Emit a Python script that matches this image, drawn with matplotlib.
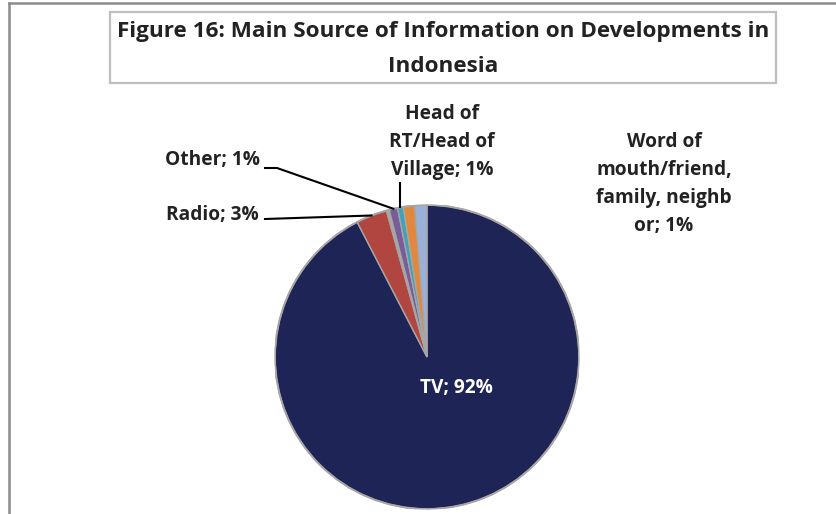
import numpy as np
import matplotlib
matplotlib.use("Agg")
import matplotlib.pyplot as plt
from matplotlib.patches import Rectangle
from matplotlib.lines import Line2D

# share of respondents by main information source (clockwise from 12 o'clock)
sources = ["TV", "Radio", "", "Other", "Head of\nRT/Head of\nVillage", "",
           "Word of\nmouth/friend,\nfamily, neighb\nor"]
shares = [92.4, 3.3, 0.3, 0.9, 0.6, 1.2, 1.3]
colors = ["#1F2457", "#B0463F", "#A3AD98", "#7A5C9A", "#3FA2BA", "#E0893E", "#9BB0D6"]

W, H = 836, 514
CX, CY, R = 427, 357, 152
plt.rcParams['font.family'] = ['Open Sans', 'DejaVu Sans']
txt = "#222222"

fig = plt.figure(figsize=(W / 100, H / 100), dpi=100)
fig.patch.set_facecolor("white")


def fx(px):
    return px / W


def fy(py):
    return 1 - py / H


# outer chart frame (only top and left edges fall inside the image)
fig.add_artist(Line2D([fx(9), fx(9)], [fy(3), fy(H + 5)], color="#8C8C8C", lw=1.8,
                      transform=fig.transFigure))
fig.add_artist(Line2D([fx(9), fx(W + 5)], [fy(3), fy(3)], color="#8C8C8C", lw=1.8,
                      transform=fig.transFigure))

# title box
fig.add_artist(Rectangle((fx(110), fy(83)), fx(776) - fx(110), fy(12) - fy(83),
                         fill=False, edgecolor="#BFBFBF", lw=1.6,
                         transform=fig.transFigure))
fig.text(fx(443), fy(32), "Figure 16: Main Source of Information on Developments in",
         ha="center", va="center", fontsize=16.2, fontweight="bold", color=txt)
fig.text(fx(443), fy(66), "Indonesia", ha="center", va="center", fontsize=16.2,
         fontweight="bold", color=txt)

ax = fig.add_axes([fx(CX - R), fy(CY + R), 2 * R / W, 2 * R / H])
wedges, _ = ax.pie(shares, colors=colors, startangle=90, counterclock=False, radius=1,
                   wedgeprops=dict(edgecolor="#A6A6A6", linewidth=1.0))
ax.add_patch(plt.Circle((0, 0), 1, fill=False, edgecolor="#A6A6A6", lw=1.4))
ax.set_xlim(-1, 1)
ax.set_ylim(-1, 1)
ax.set_aspect("equal")
ax.axis("off")


def d(px, py):
    return (px - CX) / R, (CY - py) / R


def mid_edge(i):
    w = wedges[i]
    a = np.deg2rad((w.theta1 + w.theta2) / 2)
    return np.cos(a), np.sin(a)


def pct(i):
    return "%.0f%%" % shares[i]


lab = dict(fontsize=13.8, fontweight="bold", color=txt, linespacing=1.55)

# TV label inside the big slice
ax.text(*d(456, 388), sources[0] + "; " + pct(0), ha="center", va="center",
        color="white", fontsize=13.8, fontweight="bold")

# Radio
ex, ey = mid_edge(1)
sx, sy = d(265, 219)
ax.plot([sx, ex], [sy, ey], color="black", lw=1.5, clip_on=False)
ax.text(*d(259, 215), sources[1] + "; " + pct(1), ha="right", va="center", **lab)

# Other
ex, ey = mid_edge(3)
p1 = d(265, 168)
p2 = d(277, 168)
ax.plot([p1[0], p2[0], ex], [p1[1], p2[1], ey], color="black", lw=1.5, clip_on=False)
ax.text(*d(260, 160), sources[3] + "; " + pct(3), ha="right", va="center", **lab)

# Head of RT / Head of Village
ex, ey = mid_edge(4)
top = d(0, 183)
ax.plot([ex, ex], [top[1], ey], color="black", lw=1.5, clip_on=False)
ax.text(*d(442, 142), sources[4] + "; " + pct(4), ha="center", va="center",
        multialignment="center", **lab)

# Word of mouth
ax.text(*d(664, 184), sources[6] + "; " + pct(6), ha="center", va="center",
        multialignment="center", **lab)

fig.savefig("out.png", dpi=100)
